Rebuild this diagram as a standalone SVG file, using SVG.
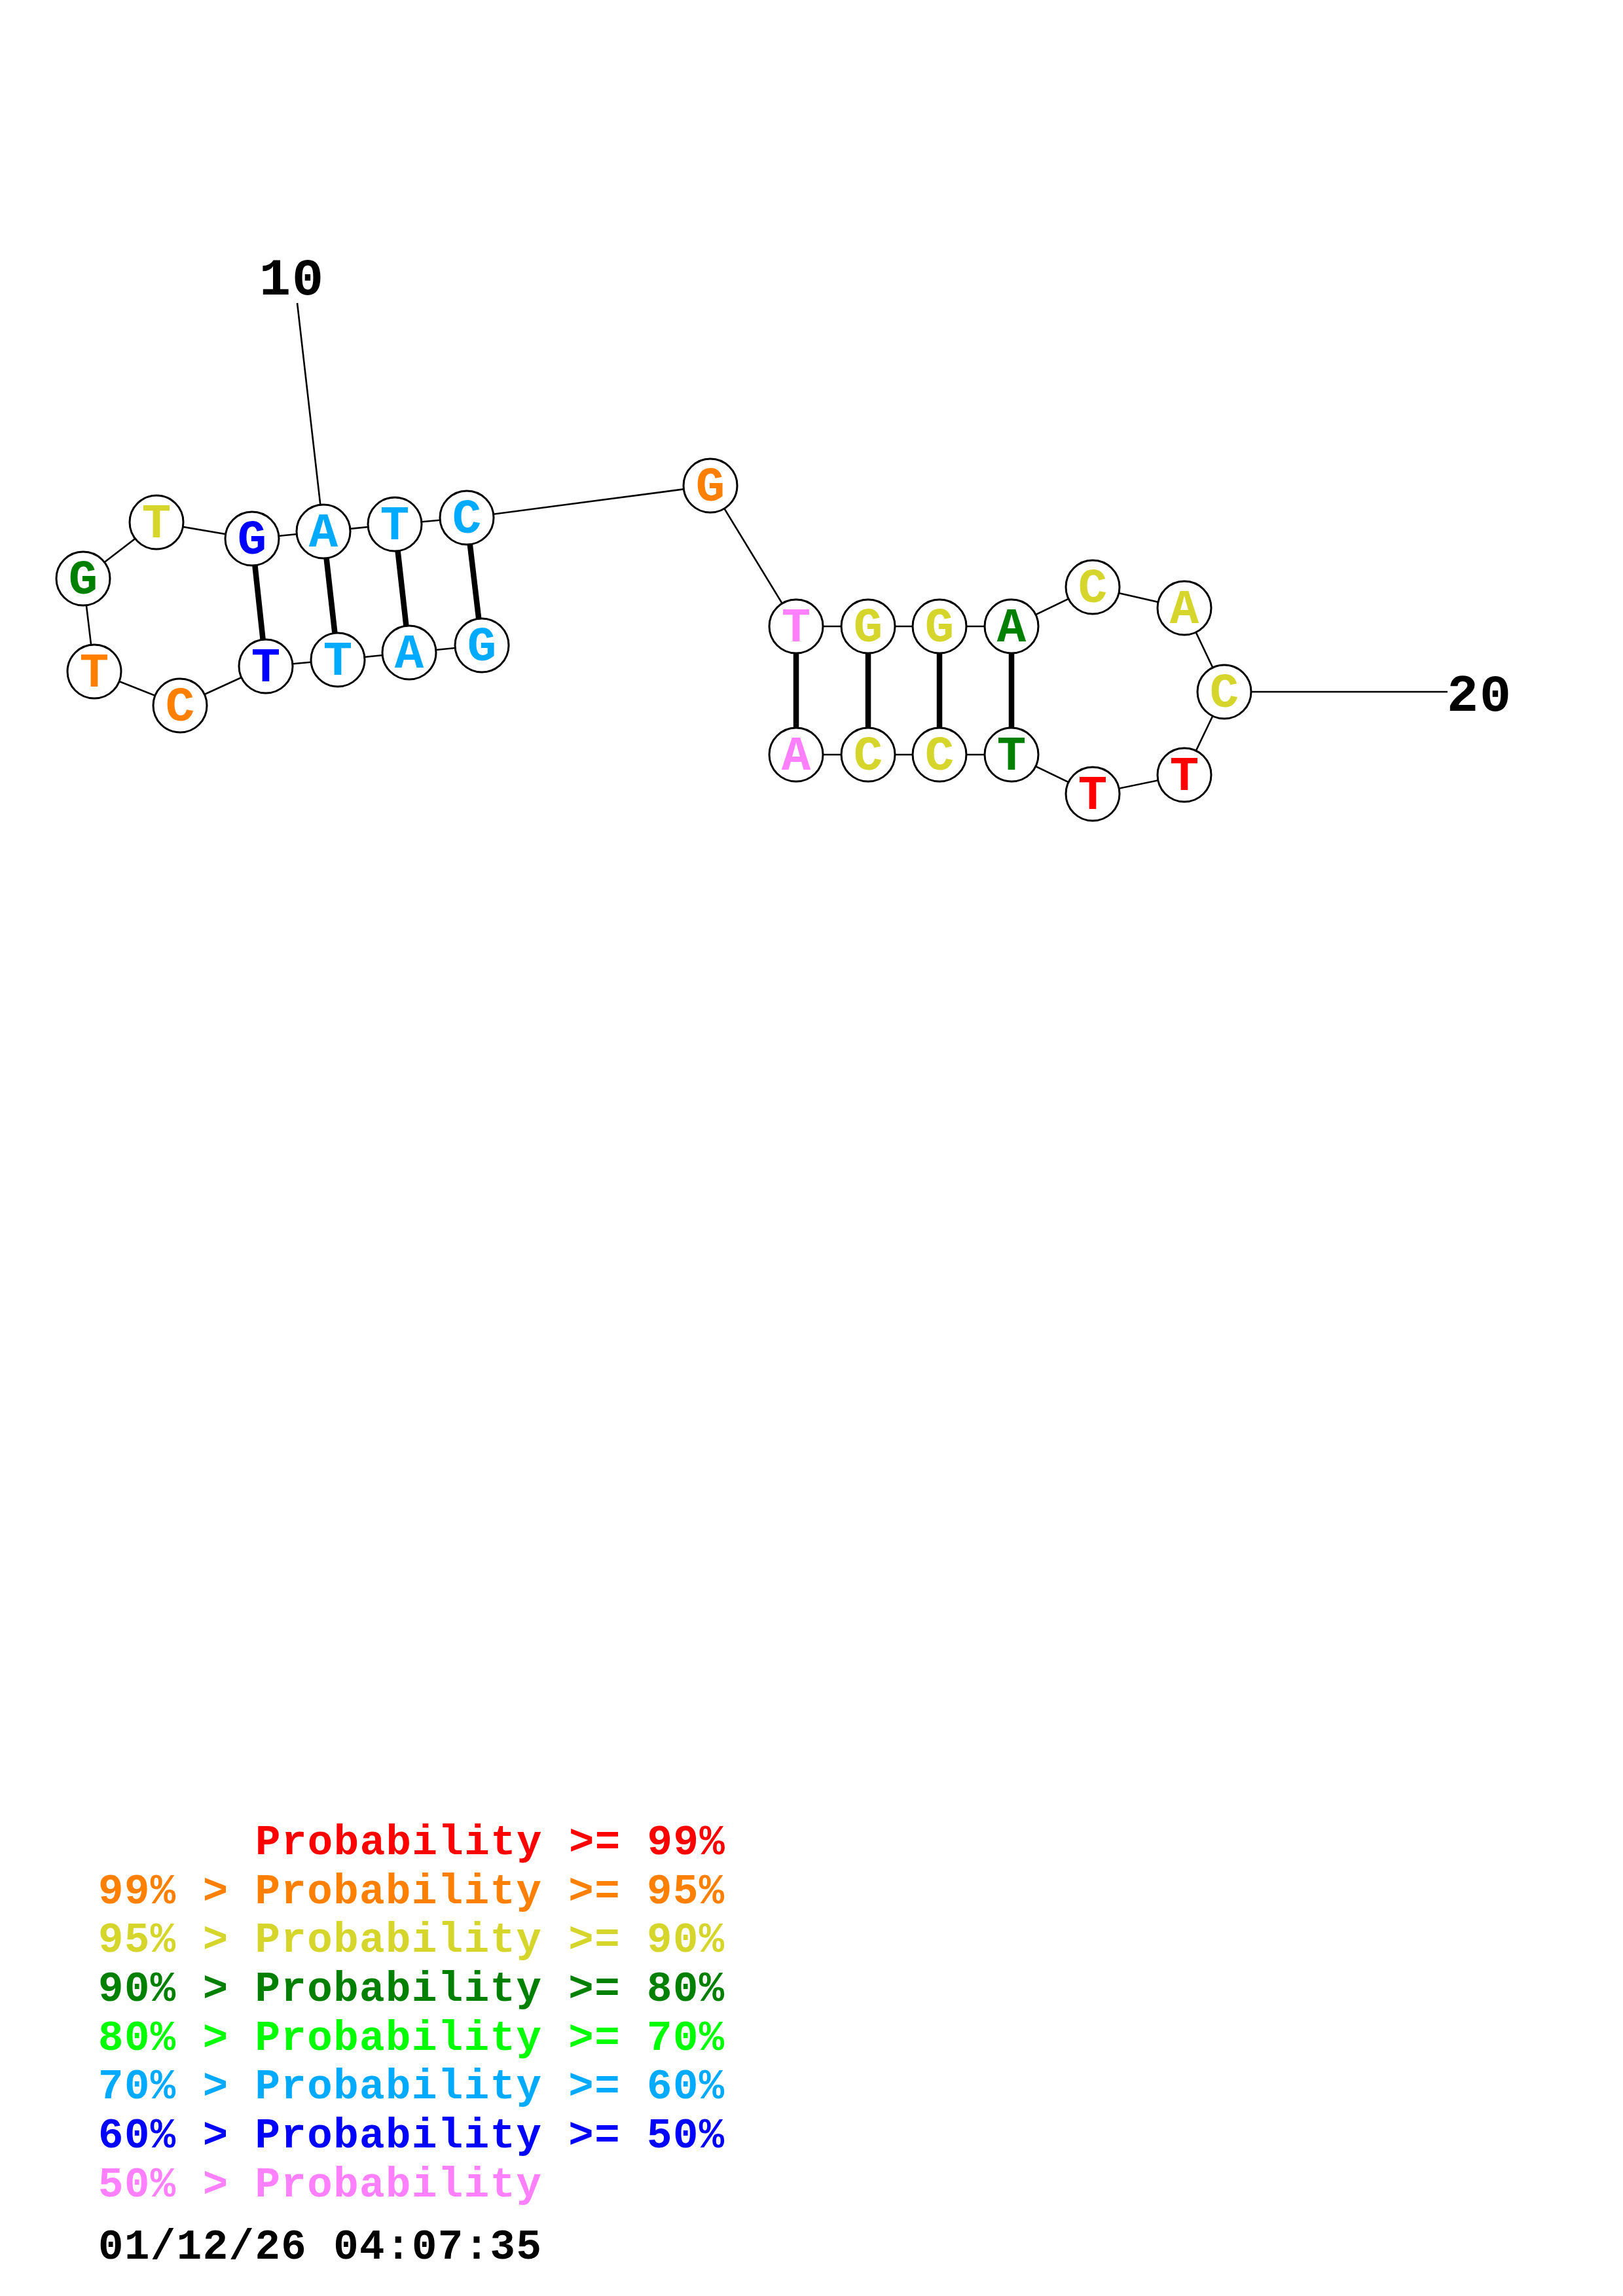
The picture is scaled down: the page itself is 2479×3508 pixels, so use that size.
<svg xmlns="http://www.w3.org/2000/svg" width="2479" height="3508" viewBox="0 0 2479 3508">
<style>
.bb{stroke:#000;stroke-width:2.6;fill:none}
.bp{stroke:#000;stroke-width:8.5;fill:none}
.nc{fill:#fff;stroke:#000;stroke-width:3}
.nt{font-family:"Liberation Mono","DejaVu Sans Mono",monospace;font-weight:bold;font-size:74px;text-anchor:middle}
.lb{font-family:"Liberation Mono","DejaVu Sans Mono",monospace;font-weight:bold;font-size:80px;fill:#000;letter-spacing:2px}
.lg{font-family:"Liberation Mono","DejaVu Sans Mono",monospace;font-weight:bold;font-size:64px;letter-spacing:1.5px}
.red{fill:#FF0000}.org{fill:#FF8000}.yel{fill:#D5D52B}.dgr{fill:#008000}.grn{fill:#00FF00}.lbl{fill:#00AAFF}.blu{fill:#0000FF}.pnk{fill:#FF80FF}
</style>
<rect width="2479" height="3508" fill="#fff"/>
<g id="connectors">
<line class="bb" x1="454" y1="463" x2="494" y2="812"/>
<line class="bb" x1="1870" y1="1057" x2="2211" y2="1057"/>
<polyline class="bb" points="736,986 625,997 516,1008 406,1018 275,1078 144,1026 127,884 239,798 385,823 494,812 603,801 713,791 1085,742 1216,957 1326,957 1435,957 1545,957 1669,897 1809,929 1870,1057 1809,1184 1669,1213 1545,1153 1435,1153 1326,1153 1216,1153"/>
<line class="bp" x1="736" y1="986" x2="713" y2="791"/>
<line class="bp" x1="625" y1="997" x2="603" y2="801"/>
<line class="bp" x1="516" y1="1008" x2="494" y2="812"/>
<line class="bp" x1="406" y1="1018" x2="385" y2="823"/>
<line class="bp" x1="1216" y1="957" x2="1216" y2="1153"/>
<line class="bp" x1="1326" y1="957" x2="1326" y2="1153"/>
<line class="bp" x1="1435" y1="957" x2="1435" y2="1153"/>
<line class="bp" x1="1545" y1="957" x2="1545" y2="1153"/>
</g>
<g id="n1"><circle class="nc" cx="736" cy="986" r="41"/><text class="nt lbl" x="736" y="1009">G</text></g>
<g id="n2"><circle class="nc" cx="625" cy="997" r="41"/><text class="nt lbl" x="625" y="1020">A</text></g>
<g id="n3"><circle class="nc" cx="516" cy="1008" r="41"/><text class="nt lbl" x="516" y="1031">T</text></g>
<g id="n4"><circle class="nc" cx="406" cy="1018" r="41"/><text class="nt blu" x="406" y="1041">T</text></g>
<g id="n5"><circle class="nc" cx="275" cy="1078" r="41"/><text class="nt org" x="275" y="1101">C</text></g>
<g id="n6"><circle class="nc" cx="144" cy="1026" r="41"/><text class="nt org" x="144" y="1049">T</text></g>
<g id="n7"><circle class="nc" cx="127" cy="884" r="41"/><text class="nt dgr" x="127" y="907">G</text></g>
<g id="n8"><circle class="nc" cx="239" cy="798" r="41"/><text class="nt yel" x="239" y="821">T</text></g>
<g id="n9"><circle class="nc" cx="385" cy="823" r="41"/><text class="nt blu" x="385" y="846">G</text></g>
<g id="n10"><circle class="nc" cx="494" cy="812" r="41"/><text class="nt lbl" x="494" y="835">A</text></g>
<g id="n11"><circle class="nc" cx="603" cy="801" r="41"/><text class="nt lbl" x="603" y="824">T</text></g>
<g id="n12"><circle class="nc" cx="713" cy="791" r="41"/><text class="nt lbl" x="713" y="814">C</text></g>
<g id="n13"><circle class="nc" cx="1085" cy="742" r="41"/><text class="nt org" x="1085" y="765">G</text></g>
<g id="n14"><circle class="nc" cx="1216" cy="957" r="41"/><text class="nt pnk" x="1216" y="980">T</text></g>
<g id="n15"><circle class="nc" cx="1326" cy="957" r="41"/><text class="nt yel" x="1326" y="980">G</text></g>
<g id="n16"><circle class="nc" cx="1435" cy="957" r="41"/><text class="nt yel" x="1435" y="980">G</text></g>
<g id="n17"><circle class="nc" cx="1545" cy="957" r="41"/><text class="nt dgr" x="1545" y="980">A</text></g>
<g id="n18"><circle class="nc" cx="1669" cy="897" r="41"/><text class="nt yel" x="1669" y="920">C</text></g>
<g id="n19"><circle class="nc" cx="1809" cy="929" r="41"/><text class="nt yel" x="1809" y="952">A</text></g>
<g id="n20"><circle class="nc" cx="1870" cy="1057" r="41"/><text class="nt yel" x="1870" y="1080">C</text></g>
<g id="n21"><circle class="nc" cx="1809" cy="1184" r="41"/><text class="nt red" x="1809" y="1207">T</text></g>
<g id="n22"><circle class="nc" cx="1669" cy="1213" r="41"/><text class="nt red" x="1669" y="1236">T</text></g>
<g id="n23"><circle class="nc" cx="1545" cy="1153" r="41"/><text class="nt dgr" x="1545" y="1176">T</text></g>
<g id="n24"><circle class="nc" cx="1435" cy="1153" r="41"/><text class="nt yel" x="1435" y="1176">C</text></g>
<g id="n25"><circle class="nc" cx="1326" cy="1153" r="41"/><text class="nt yel" x="1326" y="1176">C</text></g>
<g id="n26"><circle class="nc" cx="1216" cy="1153" r="41"/><text class="nt pnk" x="1216" y="1176">A</text></g>
<g id="labels">
<text class="lb" x="396" y="450">10</text>
<text class="lb" x="2210" y="1086">20</text>
</g>
<g id="legend">
<text class="lg red" x="390" y="2833">Probability &gt;= 99%</text>
<text class="lg org" x="150" y="2908">99% &gt; Probability &gt;= 95%</text>
<text class="lg yel" x="150" y="2982">95% &gt; Probability &gt;= 90%</text>
<text class="lg dgr" x="150" y="3057">90% &gt; Probability &gt;= 80%</text>
<text class="lg grn" x="150" y="3132">80% &gt; Probability &gt;= 70%</text>
<text class="lg lbl" x="150" y="3206">70% &gt; Probability &gt;= 60%</text>
<text class="lg blu" x="150" y="3281">60% &gt; Probability &gt;= 50%</text>
<text class="lg pnk" x="150" y="3356">50% &gt; Probability</text>
<text class="lg" x="150" y="3451" fill="#000">01/12/26 04:07:35</text>
</g>
</svg>
